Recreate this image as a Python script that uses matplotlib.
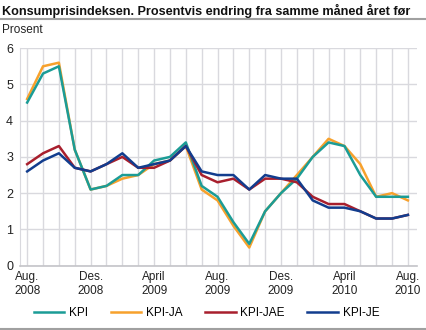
import numpy as np
import matplotlib
matplotlib.use("Agg")
import matplotlib.pyplot as plt

plt.rcParams['font.family'] = ['Liberation Sans', 'DejaVu Sans']

# Månedlige verdier, aug. 2008 - aug. 2010
months = ["Aug.\n2008", "", "", "", "Des.\n2008", "", "", "", "April\n2009", "", "", "",
          "Aug.\n2009", "", "", "", "Des.\n2009", "", "", "", "April\n2010", "", "", "",
          "Aug.\n2010"]
kpi = [4.5, 5.3, 5.5, 3.2, 2.1, 2.2, 2.5, 2.5, 2.9, 3.0, 3.4, 2.2, 1.9,
       1.2, 0.6, 1.5, 2.0, 2.4, 3.0, 3.4, 3.3, 2.5, 1.9, 1.9, 1.9]
kpi_ja = [4.6, 5.5, 5.6, 3.2, 2.1, 2.2, 2.4, 2.5, 2.8, 2.9, 3.3, 2.1, 1.8,
          1.1, 0.5, 1.5, 2.0, 2.5, 3.0, 3.5, 3.3, 2.8, 1.9, 2.0, 1.8]
kpi_jae = [2.8, 3.1, 3.3, 2.7, 2.6, 2.8, 3.0, 2.7, 2.7, 2.9, 3.3, 2.5, 2.3,
           2.4, 2.1, 2.4, 2.4, 2.3, 1.9, 1.7, 1.7, 1.5, 1.3, 1.3, 1.4]
kpi_je = [2.6, 2.9, 3.1, 2.7, 2.6, 2.8, 3.1, 2.7, 2.8, 2.9, 3.3, 2.6, 2.5,
          2.5, 2.1, 2.5, 2.4, 2.4, 1.8, 1.6, 1.6, 1.5, 1.3, 1.3, 1.4]

x = np.arange(len(months))

fig = plt.figure(figsize=(4.26, 3.3), dpi=100)
ax = fig.add_axes([0.047, 0.195, 0.931, 0.659])

lw = 1.8
ax.plot(x, kpi_ja, color='#f7a12c', lw=lw, label='KPI-JA', zorder=3)
ax.plot(x, kpi, color='#1b9c96', lw=lw, label='KPI', zorder=4)
ax.plot(x, kpi_jae, color='#a81f2d', lw=lw, label='KPI-JAE', zorder=5)
ax.plot(x, kpi_je, color='#123d8e', lw=lw, label='KPI-JE', zorder=6)

ax.set_xlim(-0.45, 24.55)
ax.set_ylim(0, 6)
ax.set_xticks(x)
ax.set_xticklabels(months, fontsize=8.5, color='#222222', linespacing=1.2)
ax.set_yticks(range(0, 7))
ax.set_yticklabels([str(v) for v in range(0, 7)], fontsize=9, color='#222222')
ax.tick_params(length=0, pad=4)
ax.tick_params(axis='y', pad=5)

ax.grid(True, color='#d9d9de', lw=1.0)
ax.set_axisbelow(True)
for s in ['top', 'right']:
    ax.spines[s].set_visible(False)
ax.spines['left'].set_color('#d9d9de')
ax.spines['bottom'].set_color('#c4c4c8')
ax.spines['bottom'].set_linewidth(1.2)

handles, labels = ax.get_legend_handles_labels()
order = [1, 0, 2, 3]
fig.legend([handles[i] for i in order], [labels[i] for i in order],
           loc='center', bbox_to_anchor=(0.485, 0.052), ncol=4, frameon=False,
           fontsize=8.5, handlelength=2.6, columnspacing=1.9, handletextpad=0.4)

fig.text(0.004, 0.968, "Konsumprisindeksen. Prosentvis endring fra samme måned året før",
         fontsize=9.1, fontweight='bold', va='center', ha='left', color='#111111')
fig.add_artist(plt.Line2D([0, 1], [0.942, 0.942], color='#a0a0a0', lw=1.5,
                          transform=fig.transFigure))
fig.add_artist(plt.Line2D([0, 1], [0.004, 0.004], color='#a0a0a0', lw=1.5,
                          transform=fig.transFigure))
fig.text(0.005, 0.908, "Prosent", fontsize=8.5, va='center', ha='left', color='#222222')

fig.savefig("out.png", dpi=100)
